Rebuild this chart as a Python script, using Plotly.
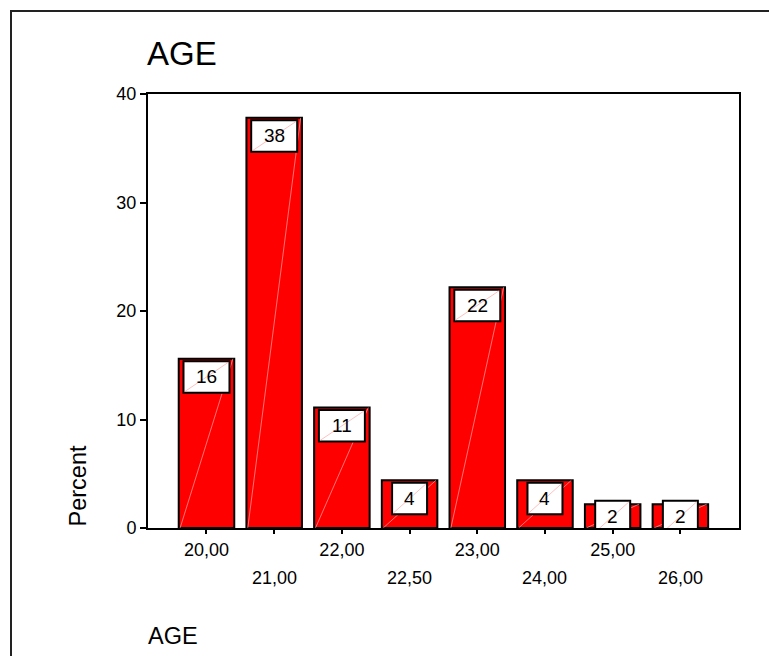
import plotly.graph_objects as go

# Frequency distribution of AGE (percent of respondents)
age_labels = ["20,00", "21,00", "22,00", "22,50", "23,00", "24,00", "25,00", "26,00"]
percents = [15.6, 37.8, 11.1, 4.4, 22.2, 4.4, 2.2, 2.2]
value_labels = [str(round(p)) for p in percents]
y_ticks = [0, 10, 20, 30, 40]

FONT = "Arial, 'Liberation Sans', sans-serif"
W, H = 769, 656
L, R, T, B = 148, 30, 94, 128
PW, PH = W - L - R, H - T - B
BAR_W = 0.82

def px_x(px):
    return (px - L) / PW

def px_y(py):
    return (H - B - py) / PH

xs = list(range(len(age_labels)))

fig = go.Figure()
fig.add_trace(go.Bar(
    x=xs, y=percents, width=BAR_W,
    marker=dict(color="#FF0000", line=dict(color="black", width=2)),
    hoverinfo="skip",
))

shapes = []
annotations = []

# faint diagonal streak across each bar
for x, p in zip(xs, percents):
    shapes.append(dict(type="line", xref="x", yref="y",
                       x0=x - BAR_W / 2 + 0.02, y0=0, x1=x + BAR_W / 2 - 0.02, y1=p,
                       line=dict(color="rgba(255,210,210,0.55)", width=1), layer="above"))

# value boxes near the top of each bar
for x, p, lab in zip(xs, percents, value_labels):
    anchor = max(p, 2.75)
    half = 23 if len(lab) > 1 else 17.5
    shapes.append(dict(type="rect", xref="x", yref="y",
                       xsizemode="pixel", ysizemode="pixel",
                       xanchor=x, yanchor=anchor,
                       x0=-half, x1=half, y0=-34, y1=-2.5,
                       fillcolor="white", line=dict(color="black", width=2), layer="above"))
    shapes.append(dict(type="line", xref="x", yref="y",
                       xsizemode="pixel", ysizemode="pixel",
                       xanchor=x, yanchor=anchor,
                       x0=-half + 1, x1=half - 1, y0=-33, y1=-3.5,
                       line=dict(color="rgba(255,150,150,0.6)", width=1), layer="above"))
    annotations.append(dict(x=x, y=anchor, xref="x", yref="y", text=lab,
                            showarrow=False, yanchor="middle", yshift=-18,
                            font=dict(family=FONT, size=19, color="black")))

# second row of category labels (staggered)
for x, lab in zip(xs, age_labels):
    if x % 2 == 1:
        annotations.append(dict(x=x, y=px_y(577.5), xref="x", yref="paper", text=lab,
                                showarrow=False, yanchor="middle",
                                font=dict(family=FONT, size=18, color="black")))

# axis titles
annotations.append(dict(x=px_x(77.5), y=px_y(486), xref="paper", yref="paper",
                        text="Percent", textangle=-90, showarrow=False,
                        xanchor="center", yanchor="middle",
                        font=dict(family=FONT, size=23.5, color="black")))
annotations.append(dict(x=px_x(146), y=px_y(636), xref="paper", yref="paper",
                        text="AGE", showarrow=False, xanchor="left", yanchor="middle",
                        font=dict(family=FONT, size=23.5, color="black")))

# outer chart frame
shapes.append(dict(type="rect", xref="paper", yref="paper",
                   x0=px_x(11), y0=px_y(700), x1=px_x(800), y1=px_y(11),
                   line=dict(color="#222222", width=2), fillcolor="rgba(0,0,0,0)", layer="below"))

fig.update_layout(
    width=W, height=H,
    margin=dict(l=L, r=R, t=T, b=B),
    paper_bgcolor="white", plot_bgcolor="white",
    showlegend=False,
    title=dict(text="AGE", x=147 / W, xref="container", xanchor="left",
               y=1 - 53 / H, yref="container", yanchor="middle",
               font=dict(family=FONT, size=33, color="black")),
    xaxis=dict(range=[-0.864, 7.866], tickmode="array", tickvals=xs,
               ticktext=[lab if i % 2 == 0 else "" for i, lab in enumerate(age_labels)],
               ticks="outside", ticklen=4, tickwidth=2, tickcolor="black",
               showline=True, linecolor="black", linewidth=2, mirror=True,
               showgrid=False, zeroline=False,
               tickfont=dict(family=FONT, size=18, color="black")),
    yaxis=dict(range=[0, 40], tickmode="array", tickvals=y_ticks,
               ticks="outside", ticklen=6, tickwidth=2, tickcolor="black",
               showline=True, linecolor="black", linewidth=2, mirror=True,
               showgrid=False, zeroline=False,
               tickfont=dict(family=FONT, size=18, color="black")),
    shapes=shapes,
    annotations=annotations,
)

fig.write_html("out.html")
